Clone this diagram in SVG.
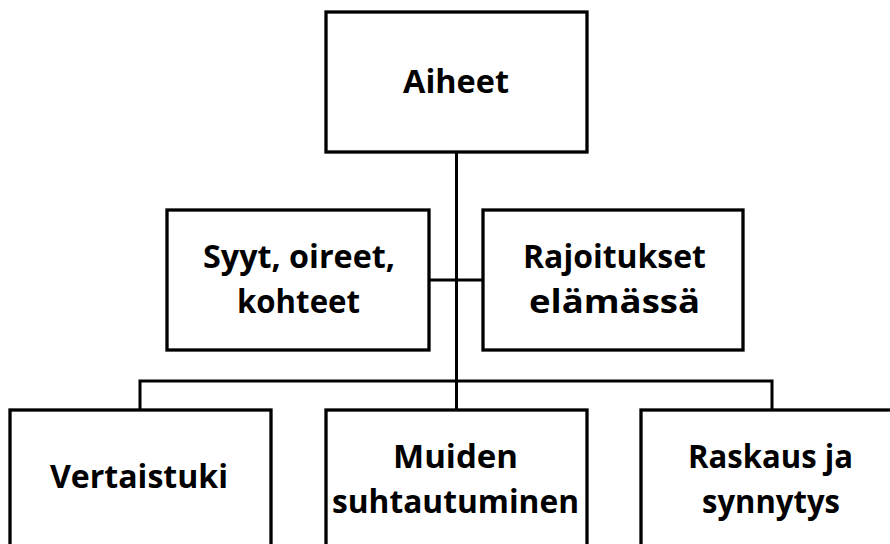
<svg xmlns="http://www.w3.org/2000/svg" width="890" height="544" viewBox="0 0 890 544">
<style>
.box{fill:#fff;stroke:#000;stroke-width:3.3}
.con{fill:none;stroke:#000;stroke-width:3}
text{font-family:"Open Sans",Lato,"Liberation Sans",sans-serif;font-weight:bold;font-size:33px;fill:#000;text-anchor:middle}
</style>
<rect width="890" height="544" fill="#fff"/>
<g id="connectors">
<line class="con" x1="456.5" y1="152" x2="456.5" y2="410"/>
<line class="con" x1="429" y1="280" x2="483" y2="280"/>
<polyline class="con" points="140,410 140,381 772,381 772,410"/>
</g>
<g id="n-aiheet">
<rect class="box" x="326" y="12" width="261" height="140"/>
<text x="456" y="93" textLength="106" lengthAdjust="spacingAndGlyphs">Aiheet</text>
</g>
<g id="n-syyt">
<rect class="box" x="167" y="210" width="262" height="140"/>
<text x="299" y="268" textLength="192" lengthAdjust="spacingAndGlyphs">Syyt, oireet,</text>
<text x="298.5" y="313" textLength="123" lengthAdjust="spacingAndGlyphs">kohteet</text>
</g>
<g id="n-rajoitukset">
<rect class="box" x="483" y="210" width="260" height="140"/>
<text x="614.5" y="268" textLength="183" lengthAdjust="spacingAndGlyphs">Rajoitukset</text>
<text x="614.5" y="313" textLength="171" lengthAdjust="spacingAndGlyphs">elämässä</text>
</g>
<g id="n-vertaistuki">
<rect class="box" x="10" y="410" width="261" height="150"/>
<text x="139" y="488" textLength="178" lengthAdjust="spacingAndGlyphs">Vertaistuki</text>
</g>
<g id="n-muiden">
<rect class="box" x="326" y="410" width="261" height="150"/>
<text x="455.5" y="468" textLength="125" lengthAdjust="spacingAndGlyphs">Muiden</text>
<text x="455.5" y="513" textLength="247" lengthAdjust="spacingAndGlyphs">suhtautuminen</text>
</g>
<g id="n-raskaus">
<rect class="box" x="641" y="410" width="261" height="150"/>
<text x="770.5" y="468" textLength="165" lengthAdjust="spacingAndGlyphs">Raskaus ja</text>
<text x="771" y="513" textLength="138" lengthAdjust="spacingAndGlyphs">synnytys</text>
</g>
</svg>
